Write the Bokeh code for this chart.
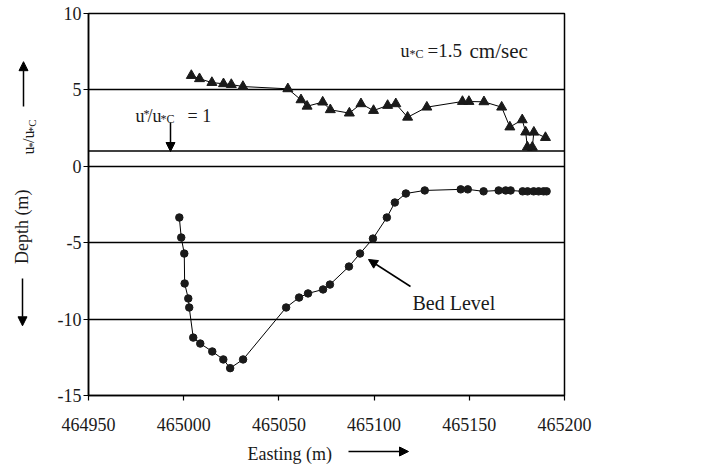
import math
from bokeh.plotting import figure
from bokeh.layouts import row, column
from bokeh.models import (Range1d, FixedTicker, NumeralTickFormatter, Label, Arrow,
                          NormalHead, Span)
from bokeh.embed import file_html
from bokeh.resources import INLINE

# ---------------- data ----------------
easting_shear = [465004.0, 465008.3, 465014.8, 465020.9, 465025.0, 465031.1,
                 465054.7, 465061.6, 465064.8, 465073.0, 465077.0, 465087.0,
                 465093.1, 465099.7, 465107.1, 465111.4, 465117.6, 465127.7,
                 465146.4, 465149.8, 465157.7, 465167.0, 465171.3, 465177.8,
                 465179.6, 465180.5, 465183.1, 465183.9, 465190.0]
shear_ratio = [5.94, 5.73, 5.48, 5.40, 5.35, 5.22,
               5.07, 4.35, 3.93, 4.20, 3.70, 3.48,
               4.09, 3.65, 3.98, 4.09, 3.21, 3.87,
               4.24, 4.24, 4.22, 3.87, 2.57, 3.04,
               2.24, 1.26, 1.25, 2.23, 1.88]

easting_depth = [464997.7, 464998.7, 465000.3, 465000.5, 465002.4, 465002.9,
                 465005.0, 465008.7, 465015.0, 465020.8, 465024.4, 465031.2,
                 465053.8, 465060.6, 465065.3, 465073.2, 465076.8, 465086.8,
                 465092.6, 465099.4, 465106.7, 465110.9, 465116.7, 465126.6,
                 465145.5, 465149.2, 465157.5, 465165.4, 465169.1, 465171.7,
                 465178.0, 465180.6, 465183.8, 465186.4, 465189.0, 465190.6]
depth = [-3.35, -4.66, -5.71, -7.67, -8.65, -9.24,
         -11.21, -11.60, -12.12, -12.64, -13.21, -12.64,
         -9.24, -8.59, -8.32, -8.06, -7.74, -6.56,
         -5.71, -4.73, -3.35, -2.37, -1.78, -1.58,
         -1.51, -1.51, -1.64, -1.58, -1.58, -1.58,
         -1.64, -1.64, -1.64, -1.64, -1.64, -1.64]

x_ticks = [464950, 465000, 465050, 465100, 465150, 465200]
y_ticks = [-15, -10, -5, 0, 5, 10]
threshold_ratio = 1.0
x_lo, x_hi = 464950, 465200
y_lo, y_hi = -15, 10

# ---------------- layout ----------------
W, H = 704, 468
LW = 50            # width of left title strip
BH = 24            # height of bottom title strip
MH = H - BH        # height of main figure
L, R, T, B = 88, 564, 13, 395   # frame edges on the page
FONT = "Liberation Serif"
INK = "#1a1a1a"


def X(px):
    return x_lo + (px - L) * (x_hi - x_lo) / (R - L)


def Y(py):
    return y_hi - (py - T) * (y_hi - y_lo) / (B - T)


p = figure(width=W - LW, height=MH, output_backend="svg", toolbar_location=None,
           x_range=Range1d(x_lo, x_hi), y_range=Range1d(y_lo, y_hi),
           min_border_left=L - LW, min_border_right=W - R,
           min_border_top=T, min_border_bottom=MH - B)
p.background_fill_color = "white"
p.border_fill_color = "white"
p.outline_line_color = "black"
p.outline_line_width = 1.5
p.outline_line_alpha = 1

for ax in (p.xaxis[0], p.yaxis[0]):
    ax.axis_line_color = "black"
    ax.axis_line_width = 1.5
    ax.major_tick_line_color = "black"
    ax.major_tick_line_width = 1.2
    ax.major_tick_in = 0
    ax.major_tick_out = 5
    ax.minor_tick_line_color = None
    ax.major_label_text_font = FONT
    ax.major_label_text_font_size = "18px"
    ax.major_label_text_color = INK
    ax.formatter = NumeralTickFormatter(format="0")

p.xaxis[0].ticker = FixedTicker(ticks=x_ticks)
p.xaxis[0].major_label_standoff = 17
p.yaxis[0].ticker = FixedTicker(ticks=y_ticks)
p.yaxis[0].major_label_standoff = 2

p.xgrid.grid_line_color = None
p.ygrid.ticker = FixedTicker(ticks=y_ticks)
p.ygrid.grid_line_color = "black"
p.ygrid.grid_line_width = 1.3
p.ygrid.grid_line_alpha = 1

p.add_layout(Span(location=threshold_ratio, dimension="width",
                  line_color="black", line_width=1.3))

# series
p.line(easting_shear, shear_ratio, line_color="black", line_width=1)
p.scatter(easting_shear, shear_ratio, marker="triangle", size=10,
          fill_color=INK, line_color=INK)
p.line(easting_depth, depth, line_color="black", line_width=1)
p.scatter(easting_depth, depth, marker="circle", size=7.5,
          fill_color=INK, line_color=INK)


def add_label(fig, fx, fy, px, py, text, size, align="left",
              baseline="alphabetic", angle=0):
    fig.add_layout(Label(x=fx(px), y=fy(py), text=text, text_font=FONT,
                         text_font_size=f"{size}px", text_color=INK,
                         text_align=align, text_baseline=baseline, angle=angle))


def add_arrow(fig, fx, fy, px0, py0, px1, py1):
    fig.add_layout(Arrow(x_start=fx(px0), y_start=fy(py0), x_end=fx(px1), y_end=fy(py1),
                         line_color="black", line_width=1.5,
                         end=NormalHead(size=9, fill_color="black", line_color="black")))


# annotations inside the plotting frame
add_label(p, X, Y, 400, 50, "u", 18)
add_label(p, X, Y, 409, 53, "*C", 12)
add_label(p, X, Y, 427, 50, "=1.5", 19)
add_label(p, X, Y, 469, 50, "cm/sec", 21)

add_label(p, X, Y, 135, 115, "u", 18)
add_label(p, X, Y, 143, 113, "*", 12)
add_label(p, X, Y, 147, 115, "/u", 18)
add_label(p, X, Y, 160, 118, "*C", 12)
add_label(p, X, Y, 187, 115, "= 1", 18)
add_arrow(p, X, Y, 170, 122, 170, 151)

add_label(p, X, Y, 412, 302, "Bed Level", 20)
add_arrow(p, X, Y, 410, 286, 368, 259)

# ---------------- left title strip ----------------
left = figure(width=LW, height=MH, output_backend="svg", toolbar_location=None,
              x_range=Range1d(0, LW), y_range=Range1d(0, MH),
              x_axis_type=None, y_axis_type=None, min_border=0)
left.outline_line_color = None
left.grid.grid_line_color = None
left.border_fill_color = "white"


def LX(px):
    return px


def LY(py):
    return MH - py


up = math.pi / 2
add_label(left, LX, LY, 28, 164, "u", 16, angle=up)
add_label(left, LX, LY, 31, 156, "*", 11, angle=up)
add_label(left, LX, LY, 28, 150.5, "/u", 16, angle=up)
add_label(left, LX, LY, 31, 138, "*C", 11, angle=up)
add_arrow(left, LX, LY, 23, 108, 23, 56)

add_label(left, LX, LY, 21, 248, "Depth (m)", 18, align="center",
          baseline="middle", angle=up)
add_arrow(left, LX, LY, 22, 308, 22, 363)

# ---------------- bottom title strip ----------------
bottom = figure(width=W, height=BH, output_backend="svg", toolbar_location=None,
                x_range=Range1d(0, W), y_range=Range1d(0, BH),
                x_axis_type=None, y_axis_type=None, min_border=0)
bottom.outline_line_color = None
bottom.grid.grid_line_color = None
bottom.border_fill_color = "white"


def BX(px):
    return px


def BY(py):
    return H - py


add_label(bottom, BX, BY, 247, 453, "Easting (m)", 18, baseline="middle")
add_arrow(bottom, BX, BY, 348, 451, 408, 451)

page = column(row(left, p, spacing=0), bottom, spacing=0)

open("out.html", "w").write(file_html(page, INLINE))
